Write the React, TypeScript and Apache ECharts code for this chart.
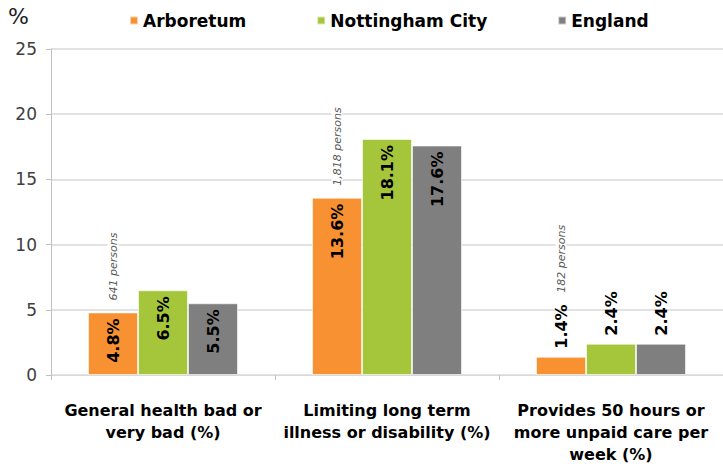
import React, { useEffect, useRef } from "react";
import * as echarts from "echarts";

const categories = [
  "General health bad or\nvery bad (%)",
  "Limiting long term\nillness or disability (%)",
  "Provides 50 hours or\nmore unpaid care per\nweek (%)",
];
const arboretum = [4.8, 13.6, 1.4];
const nottingham = [6.5, 18.1, 2.4];
const england = [5.5, 17.6, 2.4];
const persons = ["641 persons", "1,818 persons", "182 persons"];
const yTicks = [0, 5, 10, 15, 20, 25];

const FONT = "DejaVu Sans";

export default function App() {
  const ref = useRef<HTMLDivElement>(null);
  useEffect(() => {
    if (!ref.current) return;
    const chart = echarts.init(ref.current, null, { renderer: "svg" });
    const smallThreshold = 3;
    const valueLabel = (vals: number[]) =>
      vals.map((v) => ({
        value: v,
        label:
          v < smallThreshold
            ? { position: "top", align: "left", distance: 8 }
            : { position: "insideTop", align: "right", distance: 6 },
      }));
    const baseLabel = {
      show: true,
      rotate: 90,
      verticalAlign: "middle",
      color: "#000",
      fontFamily: FONT,
      fontWeight: "bold",
      fontSize: 16,
      formatter: (p: any) => p.value.toFixed(1) + "%",
    };
    chart.setOption({
      animation: false,
      textStyle: { fontFamily: FONT },
      grid: { left: 51, right: -2, top: 49, bottom: 95 },
      graphic: [
        {
          type: "text",
          left: 8,
          top: 5,
          style: { text: "%", fontSize: 22, fontFamily: FONT, fill: "#222" },
        },
      ],
      legend: {
        left: 124,
        top: 7,
        icon: "rect",
        itemWidth: 8,
        itemHeight: 8,
        itemGap: 70,
        data: ["Arboretum", "Nottingham City", "England"],
        textStyle: { fontFamily: FONT, fontWeight: "bold", fontSize: 17, color: "#000" },
      },
      xAxis: {
        type: "category",
        data: categories,
        axisLine: { show: true, lineStyle: { color: "#d9d9d9", width: 1 } },
        axisTick: { show: true, length: 5, lineStyle: { color: "#bfbfbf" } },
        axisLabel: {
          interval: 0,
          margin: 24,
          fontFamily: FONT,
          fontWeight: "bold",
          fontSize: 16,
          lineHeight: 22,
          color: "#000",
        },
      },
      yAxis: {
        type: "value",
        min: 0,
        max: 25,
        interval: 5,
        axisLine: { show: true, lineStyle: { color: "#bfbfbf" } },
        axisTick: { show: true, length: 5, lineStyle: { color: "#bfbfbf" } },
        axisLabel: {
          margin: 14,
          fontFamily: FONT,
          fontSize: 17,
          color: "#404040",
          formatter: (v: number) => (yTicks.includes(v) ? String(v) : ""),
        },
        splitLine: { show: true, lineStyle: { color: "#d9d9d9", width: 1.5 } },
      },
      series: [
        {
          name: "Arboretum",
          type: "bar",
          stack: "arb",
          barWidth: 50,
          itemStyle: { color: "#F79131", borderColor: "rgba(255,255,255,0.6)", borderWidth: 1 },
          label: baseLabel,
          data: valueLabel(arboretum),
        },
        {
          name: "ArboretumPersons",
          type: "bar",
          stack: "arb",
          barWidth: 50,
          itemStyle: { color: "transparent" },
          legendHoverLink: false,
          label: {
            show: true,
            position: "top",
            rotate: 90,
            align: "left",
            verticalAlign: "middle",
            fontFamily: FONT,
            fontStyle: "italic",
            fontSize: 11,
            color: "#595959",
            backgroundColor: "#fff",
            padding: [0, 4],
            formatter: (p: any) => persons[p.dataIndex],
          },
          data: persons.map((_, i) => ({
            value: 0,
            label: { distance: arboretum[i] < smallThreshold ? 60 : 8 },
          })),
        },
        {
          name: "Nottingham City",
          type: "bar",
          barWidth: 50,
          barGap: 0,
          itemStyle: { color: "#A5C63B", borderColor: "rgba(255,255,255,0.6)", borderWidth: 1 },
          label: baseLabel,
          data: valueLabel(nottingham),
        },
        {
          name: "England",
          type: "bar",
          barWidth: 50,
          barGap: 0,
          itemStyle: { color: "#7F7F7F", borderColor: "rgba(255,255,255,0.6)", borderWidth: 1 },
          label: baseLabel,
          data: valueLabel(england),
        },
      ],
    });
    return () => chart.dispose();
  }, []);
  return <div ref={ref} style={{ width: 723, height: 470, position: "absolute", left: 0, top: 0 }} />;
}
